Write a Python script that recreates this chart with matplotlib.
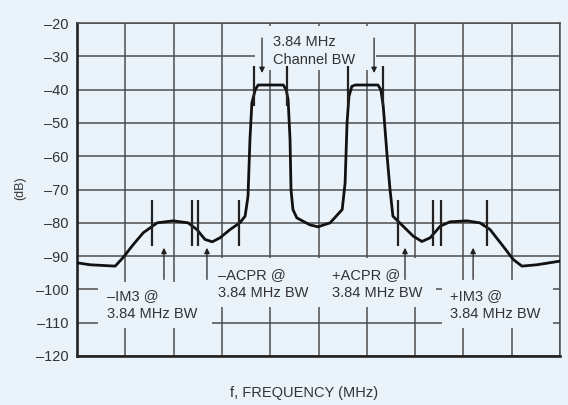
import matplotlib.pyplot as plt
from matplotlib.patches import Rectangle

BG = '#eaf3fa'
GRID = '#4d4d4d'
INK = '#111111'

# spectrum trace, x in grid divisions, y in dB
freq_div = [0.00, 0.27, 0.79, 0.95, 1.16, 1.37, 1.66, 1.99, 2.30, 2.48, 2.65, 2.80,
            2.96, 3.17, 3.37, 3.48, 3.54, 3.58, 3.62, 3.69, 3.75, 4.27, 4.33, 4.37,
            4.41, 4.43, 4.47, 4.55, 4.82, 4.99, 5.24, 5.49, 5.55, 5.59, 5.63, 5.69,
            5.76, 6.23, 6.29, 6.34, 6.42, 6.48, 6.54, 6.75, 6.96, 7.14, 7.31, 7.52,
            7.72, 8.07, 8.34, 8.55, 8.82, 9.03, 9.21, 9.52, 10.00]
level_db = [-92.0, -92.6, -93.0, -90.5, -86.6, -83.0, -80.0, -79.4, -80.0, -82.0, -85.0, -85.7,
            -84.5, -82.0, -80.0, -78.0, -72.0, -55.0, -44.0, -40.0, -38.6, -38.6, -40.0, -43.0,
            -55.0, -70.0, -76.0, -78.5, -80.6, -81.2, -80.0, -76.0, -68.0, -50.0, -42.0, -39.0,
            -38.6, -38.6, -40.0, -45.0, -60.0, -70.0, -78.0, -81.0, -84.0, -85.6, -84.5, -81.0,
            -79.7, -79.4, -80.0, -82.0, -87.0, -91.0, -93.0, -92.6, -91.5]

# integration bandwidth markers
chan_marks = [3.66, 4.35, 5.61, 6.34]
side_marks = [1.55, 2.38, 2.51, 3.35, 6.65, 7.37, 7.54, 8.49]
chan_arrows = [3.83, 6.15]
side_arrows = [1.80, 2.69, 6.79, 8.20]

y_ticks = [-20, -30, -40, -50, -60, -70, -80, -90, -100, -110, -120]
y_labels = ['–20', '–30', '–40', '–50', '–60', '–70', '–80', '–90', '–100', '–110', '–120']

plt.rcParams['font.family'] = ['Liberation Sans', 'DejaVu Sans']

fig = plt.figure(figsize=(5.68, 4.05), dpi=100)
fig.patch.set_facecolor(BG)
ax = fig.add_axes([0.1356, 0.121, 0.8504, 0.822])
ax.set_facecolor(BG)

ax.set_xlim(0, 10)
ax.set_ylim(-120, -20)
ax.set_xticks(range(0, 11))
ax.set_xticklabels([])
ax.set_yticks(y_ticks)
ax.set_yticklabels(y_labels, fontsize=10.5, color='#333333')
ax.tick_params(length=0, pad=6)
ax.set_axisbelow(True)
ax.grid(True, color=GRID, lw=1.1)

for side in ['top', 'right']:
    ax.spines[side].set_color(GRID)
    ax.spines[side].set_linewidth(1.1)
for side in ['left', 'bottom']:
    ax.spines[side].set_color('#222222')
    ax.spines[side].set_linewidth(1.9)

# blank out the grid behind the annotation labels
for x0, x1, y0, y1 in [(3.69, 6.19, -34.2, -21.0),
                       (0.43, 2.80, -111.5, -97.7),
                       (2.80, 7.44, -105.2, -90.6),
                       (7.56, 9.86, -111.5, -97.1)]:
    ax.add_patch(Rectangle((x0, y0), x1 - x0, y1 - y0, facecolor=BG,
                           edgecolor='none', zorder=1))

ax.plot(freq_div, level_db, color=INK, lw=2.0, solid_joinstyle='round', zorder=3)

ax.vlines(chan_marks, -45, -33, color='#222222', lw=1.6, zorder=3)
ax.vlines(side_marks, -87, -73, color='#222222', lw=1.6, zorder=3)

arrow = dict(arrowstyle='-|>', color='#222222', lw=0.9, mutation_scale=8,
             shrinkA=0, shrinkB=0)
for x in chan_arrows:
    ax.annotate('', xy=(x, -35), xytext=(x, -24.5), arrowprops=arrow, zorder=4)
for x in side_arrows:
    ax.annotate('', xy=(x, -87.5), xytext=(x, -97), arrowprops=arrow, zorder=4)

txt = dict(fontsize=10.5, color='#333333', ha='left', va='center',
           linespacing=1.35, zorder=4)
ax.text(4.06, -28.4, '3.84 MHz\nChannel BW', **txt)
ax.text(0.62, -104.8, '–IM3 @\n3.84 MHz BW', **txt)
ax.text(2.92, -98.3, '–ACPR @\n3.84 MHz BW', **txt)
ax.text(5.28, -98.3, '+ACPR @\n3.84 MHz BW', **txt)
ax.text(7.72, -104.6, '+IM3 @\n3.84 MHz BW', **txt)

fig.text(0.035, 0.535, '(dB)', rotation=90, fontsize=9, color='#333333',
         ha='center', va='center')
fig.text(0.536, 0.03, 'f, FREQUENCY (MHz)', fontsize=10.5, color='#333333',
         ha='center', va='center')

fig.savefig('out.png', dpi=100, facecolor=BG)
